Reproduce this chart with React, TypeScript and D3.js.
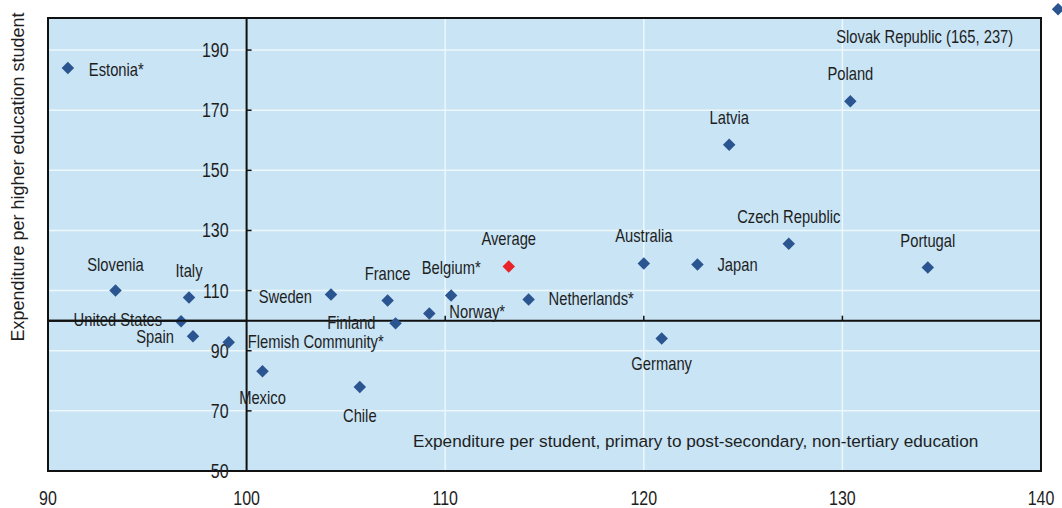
import React, { useRef, useEffect } from 'react'
import * as d3 from 'd3'

const countries = [
  'Estonia*', 'Slovenia', 'Italy', 'United States', 'Spain', 'Flemish Community*', 'Mexico',
  'Sweden', 'France', 'Finland', 'Chile', 'Norway*', 'Belgium*', 'Average', 'Netherlands*',
  'Australia', 'Japan', 'Germany', 'Latvia', 'Czech Republic', 'Poland', 'Portugal',
]
const primaryValues = [
  91.0, 93.4, 97.1, 96.7, 97.3, 99.1, 100.8,
  104.25, 107.1, 107.5, 105.7, 109.2, 110.3, 113.2, 114.2,
  120.0, 122.7, 120.9, 124.3, 127.3, 130.4, 134.3,
]
const higherValues = [
  184.0, 110.0, 107.7, 99.8, 94.8, 92.8, 83.2,
  108.7, 106.7, 99.1, 77.9, 102.4, 108.4, 118.0, 107.0,
  119.0, 118.7, 94.1, 158.5, 125.6, 173.0, 117.7,
]
const xTicks = [90, 100, 110, 120, 130, 140]
const yTicks = [50, 70, 90, 110, 130, 150, 170, 190]

// label placement: [dx, dy, anchor]
const labelPos: Record<string, [number, number, string]> = {
  'Estonia*': [21, 8, 'start'],
  'Slovenia': [0, -20, 'middle'],
  'Italy': [0, -21, 'middle'],
  'United States': [-19, 5, 'end'],
  'Spain': [-19, 7, 'end'],
  'Flemish Community*': [19, 6, 'start'],
  'Mexico': [0, 33, 'middle'],
  'Sweden': [-19, 8, 'end'],
  'France': [0, -21, 'middle'],
  'Finland': [-20, 6, 'end'],
  'Chile': [0, 35, 'middle'],
  'Norway*': [20, 5, 'start'],
  'Belgium*': [0, -21, 'middle'],
  'Average': [0, -22, 'middle'],
  'Netherlands*': [20, 5, 'start'],
  'Australia': [0, -22, 'middle'],
  'Japan': [20, 7, 'start'],
  'Germany': [0, 32, 'middle'],
  'Latvia': [0, -21, 'middle'],
  'Czech Republic': [0, -21, 'middle'],
  'Poland': [0, -21, 'middle'],
  'Portugal': [0, -20, 'middle'],
}

const SQ = 0.82 // horizontal squeeze, stands in for a narrow face

export default function App() {
  const svgRef = useRef<SVGSVGElement>(null)

  useEffect(() => {
    const svg = d3.select(svgRef.current)
    svg.selectAll('*').remove()

    const width = 1062, height = 508
    const left = 48, right = 1041, top = 18, bottom = 471
    const font = '"Liberation Sans", Arial, sans-serif'
    const ink = '#1e1e1e'
    const at = (px: number, py: number) => `translate(${px},${py}) scale(${SQ},1)`

    svg.attr('width', width).attr('height', height)

    const x = d3.scaleLinear().domain([90, 140]).range([left, right])
    const y = d3.scaleLinear().domain([50, 200]).range([bottom, top + 2])

    svg.append('rect')
      .attr('x', left).attr('y', top).attr('width', right - left).attr('height', bottom - top)
      .attr('fill', '#c8e4f5')

    // white grid
    svg.append('g').selectAll('line').data(yTicks.filter(d => d > 50))
      .join('line')
      .attr('x1', left).attr('x2', right).attr('y1', d => y(d)).attr('y2', d => y(d))
      .attr('stroke', '#eef7fc').attr('stroke-width', 1.5)
    svg.append('g').selectAll('line').data(xTicks.filter(d => d > 100 && d < 140))
      .join('line')
      .attr('x1', d => x(d)).attr('x2', d => x(d)).attr('y1', top).attr('y2', bottom)
      .attr('stroke', '#eef7fc').attr('stroke-width', 1.5)

    // border
    svg.append('rect')
      .attr('x', left).attr('y', top).attr('width', right - left).attr('height', bottom - top)
      .attr('fill', 'none').attr('stroke', '#111').attr('stroke-width', 2)

    // axes crossing at (100, 100)
    svg.append('line')
      .attr('x1', x(100)).attr('x2', x(100)).attr('y1', top).attr('y2', bottom)
      .attr('stroke', '#111').attr('stroke-width', 2)
    svg.append('line')
      .attr('x1', left).attr('x2', right).attr('y1', y(100)).attr('y2', y(100))
      .attr('stroke', '#111').attr('stroke-width', 2)

    svg.append('g').selectAll('line').data(yTicks.filter(d => d > 50))
      .join('line')
      .attr('x1', x(100)).attr('x2', x(100) + 5).attr('y1', d => y(d)).attr('y2', d => y(d))
      .attr('stroke', '#111').attr('stroke-width', 1.5)
    svg.append('g').selectAll('line').data(xTicks.filter(d => d > 100 && d < 140))
      .join('line')
      .attr('x1', d => x(d)).attr('x2', d => x(d)).attr('y1', y(100)).attr('y2', y(100) - 5)
      .attr('stroke', '#111').attr('stroke-width', 1.5)

    // tick labels
    svg.append('g').selectAll('text').data(yTicks)
      .join('text')
      .attr('transform', d => at(x(100) - 18, y(d) + 7))
      .attr('text-anchor', 'end').attr('font-family', font).attr('font-size', 19.5).attr('fill', ink)
      .text(d => d)
    svg.append('g').selectAll('text').data(xTicks)
      .join('text')
      .attr('transform', d => at(x(d), 505))
      .attr('text-anchor', 'middle').attr('font-family', font).attr('font-size', 19.5).attr('fill', ink)
      .text(d => d)

    // axis titles
    svg.append('text')
      .attr('transform', 'translate(24,177) rotate(-90)')
      .attr('text-anchor', 'middle').attr('font-family', font).attr('font-size', 18).attr('fill', ink)
      .text('Expenditure per higher education student')
    svg.append('text')
      .attr('x', 413).attr('y', 447)
      .attr('font-family', font).attr('font-size', 17.2).attr('fill', ink)
      .text('Expenditure per student, primary to post-secondary, non-tertiary education')

    const pts = countries.map((c, i) => ({ name: c, px: primaryValues[i], hy: higherValues[i] }))
    const diamond = d3.symbol().type(d3.symbolSquare).size(78)

    svg.append('g').selectAll('path').data(pts)
      .join('path')
      .attr('d', diamond)
      .attr('transform', d => `translate(${x(d.px)},${y(d.hy)}) rotate(45)`)
      .attr('fill', d => d.name === 'Average' ? '#e8242b' : '#2b5590')

    svg.append('g').selectAll('text').data(pts)
      .join('text')
      .attr('transform', d => at(x(d.px) + labelPos[d.name][0], y(d.hy) + labelPos[d.name][1]))
      .attr('text-anchor', d => labelPos[d.name][2])
      .attr('font-family', font).attr('font-size', 18).attr('fill', ink)
      .text(d => d.name)

    // off-scale note and marker
    svg.append('text')
      .attr('transform', at(x(138.6), y(192.3)))
      .attr('text-anchor', 'end').attr('font-family', font).attr('font-size', 18).attr('fill', ink)
      .text('Slovak Republic (165, 237)')
    svg.append('path')
      .attr('d', diamond)
      .attr('transform', `translate(${x(140.86)},${y(203.6)}) rotate(45)`)
      .attr('fill', '#2b5590')

    // redraw horizontal axis on top of labels that sit on it
    svg.append('line')
      .attr('x1', left).attr('x2', x(100)).attr('y1', y(100)).attr('y2', y(100))
      .attr('stroke', '#111').attr('stroke-width', 2)
  }, [])

  return <svg ref={svgRef} style={{ position: 'absolute', left: 0, top: 0, background: '#fff' }} />
}
